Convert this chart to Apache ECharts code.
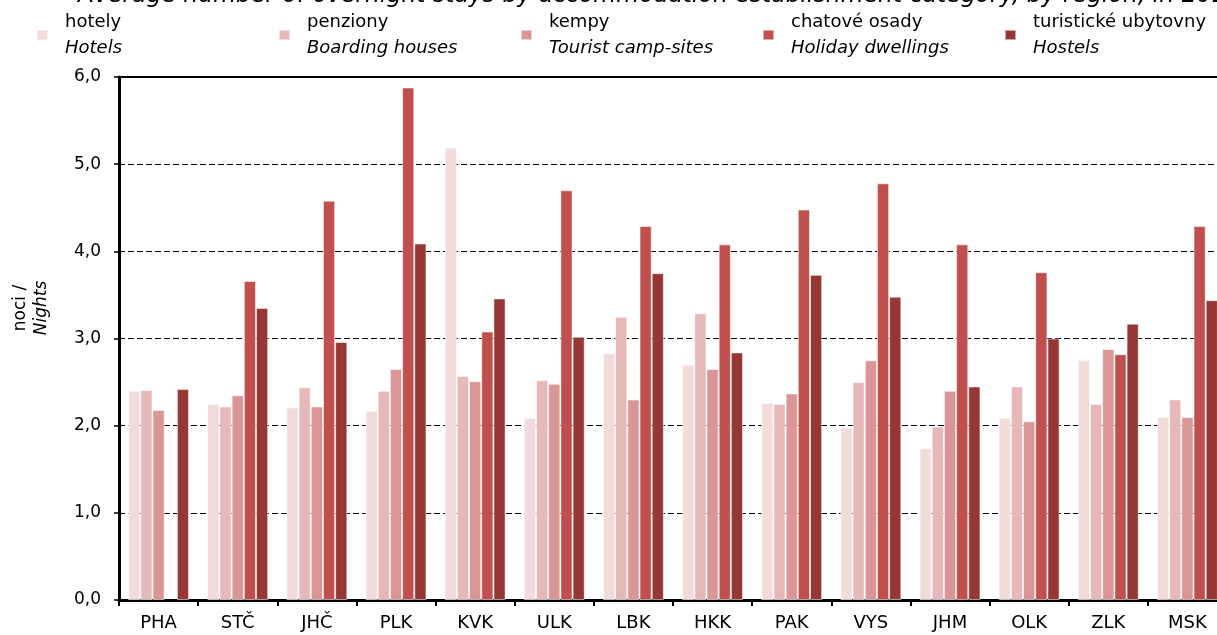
<!DOCTYPE html>
<html>
<head>
<meta charset="utf-8">
<script src="https://cdn.jsdelivr.net/npm/echarts@6/dist/echarts.min.js"></script>
<style>
  html, body { margin: 0; padding: 0; background: #fff; }
  #chart { width: 1217px; height: 635px; }
</style>
</head>
<body>
<div id="chart"></div>
<script>
// kraje
var regions = ['PHA', 'STČ', 'JHČ', 'PLK', 'KVK', 'ULK', 'LBK', 'HKK', 'PAK', 'VYS', 'JHM', 'OLK', 'ZLK', 'MSK'];

// kategorie ubytování (cz / en)
var seriesNames = ['hotely', 'penziony', 'kempy', 'chatové osady', 'turistické ubytovny'];
var seriesNamesEn = ['Hotels', 'Boarding houses', 'Tourist camp-sites', 'Holiday dwellings', 'Hostels'];

// průměrný počet přenocování
var hotely    = [2.40, 2.25, 2.21, 2.17, 5.19, 2.09, 2.83, 2.70, 2.26, 1.98, 1.74, 2.09, 2.75, 2.10];
var penziony  = [2.41, 2.22, 2.44, 2.40, 2.57, 2.52, 3.25, 3.29, 2.25, 2.50, 1.99, 2.45, 2.25, 2.30];
var kempy     = [2.18, 2.35, 2.22, 2.65, 2.51, 2.48, 2.30, 2.65, 2.37, 2.75, 2.40, 2.05, 2.88, 2.10];
var chatove   = ['-',  3.66, 4.58, 5.88, 3.08, 4.70, 4.29, 4.08, 4.48, 4.78, 4.08, 3.76, 2.82, 4.29];
var ubytovny  = [2.42, 3.35, 2.96, 4.09, 3.46, 3.02, 3.75, 2.84, 3.73, 3.48, 2.45, 3.00, 3.17, 3.44];

// popisky osy y
var yTickLabels = ['0,0', '1,0', '2,0', '3,0', '4,0', '5,0', '6,0'];

var titleText = 'Average number of overnight stays by accommodation establishment category, by region, in 2019';

/**
 * barvy a rozložení
 */
var colors = ['#f2dcdb', '#e6b9b8', '#d99694', '#c0504d', '#953735'];
var legendLeft = [36, 278, 520, 762, 1004];
var FONT = '"DejaVu Sans", sans-serif';

var seriesData = [hotely, penziony, kempy, chatove, ubytovny];

var myChart = echarts.init(document.getElementById('chart'), null, { renderer: 'canvas' });

var legends = seriesNames.map(function (name, i) {
	return {
		data: [name],
		left: legendLeft[i],
		top: 13,
		padding: 0,
		selectedMode: false,
		icon: 'rect',
		itemWidth: 11,
		itemHeight: 10,
		formatter: function (n) {
			return '{a|' + n + '}\n{b|' + seriesNamesEn[seriesNames.indexOf(n)] + '}';
		},
		textStyle: {
			color: '#000',
			fontFamily: FONT,
			rich: {
				a: { fontSize: 18, lineHeight: 26, fontFamily: FONT, color: '#000', padding: [0, 0, 0, 12] },
				b: { fontSize: 18, lineHeight: 26, fontFamily: FONT, color: '#000', fontStyle: 'italic', padding: [0, 0, 0, 12] }
			}
		}
	};
});

var series = seriesNames.map(function (name, i) {
	return {
		name: name,
		type: 'bar',
		data: seriesData[i],
		barGap: '0%',
		barCategoryGap: '23%',
		itemStyle: {
			color: colors[i],
			borderColor: 'rgba(255,255,255,0.55)',
			borderWidth: 1
		},
		animation: false
	};
});

var option = {
	animation: false,
	backgroundColor: '#fff',
	title: {
		text: titleText,
		left: 78,
		top: -16,
		padding: 0,
		textStyle: {
			fontFamily: FONT,
			fontSize: 23.5,
			fontWeight: 'normal',
			fontStyle: 'italic',
			color: '#000'
		}
	},
	legend: legends,
	grid: {
		left: 119,
		width: 1108,
		top: 77,
		bottom: 35,
		containLabel: false,
		outerBoundsMode: 'none',
		show: true,
		borderColor: '#000',
		borderWidth: 2,
		backgroundColor: 'transparent'
	},
	xAxis: {
		type: 'category',
		data: regions,
		boundaryGap: true,
		axisLine: { show: true, lineStyle: { color: '#000', width: 3 } },
		axisTick: { show: true, inside: false, length: 6, alignWithLabel: false, lineStyle: { color: '#000', width: 2 } },
		axisLabel: { color: '#000', fontFamily: FONT, fontSize: 18, margin: 14, interval: 0 },
		splitLine: { show: false }
	},
	yAxis: {
		type: 'value',
		min: 0,
		max: 6,
		interval: 1,
		axisLine: { show: true, lineStyle: { color: '#000', width: 3 } },
		axisTick: { show: true, inside: false, length: 5, lineStyle: { color: '#000', width: 1.5 } },
		axisLabel: {
			color: '#000', fontFamily: FONT, fontSize: 17, margin: 18,
			formatter: function (v) { return yTickLabels[Math.round(v)]; }
		},
		splitLine: { show: true, lineStyle: { color: '#000', width: 1, type: [6, 3] } }
	},
	graphic: [{
		type: 'text',
		x: 31,
		y: 308,
		rotation: Math.PI / 2,
		style: {
			text: '{a|noci /}\n{b|Nights}',
			align: 'center',
			verticalAlign: 'middle',
			fill: '#000',
			rich: {
				a: { fontSize: 17, lineHeight: 21, fontFamily: FONT, fill: '#000' },
				b: { fontSize: 17, lineHeight: 21, fontFamily: FONT, fontStyle: 'italic', fill: '#000' }
			}
		}
	}],
	series: series
};

myChart.setOption(option);
</script>
</body>
</html>
